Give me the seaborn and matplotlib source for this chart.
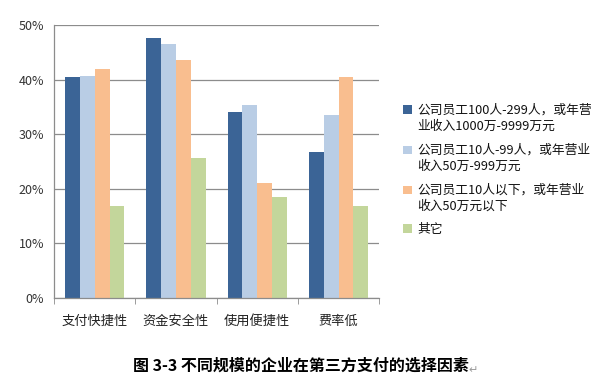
import pandas as pd
import matplotlib.pyplot as plt
import seaborn as sns
from matplotlib.ticker import FuncFormatter, FixedLocator
from matplotlib.patches import Patch, Rectangle
from matplotlib.legend_handler import HandlerPatch

# data (percent)
categories = ['支付快捷性', '资金安全性', '使用便捷性', '费率低']
series_names = ['公司员工100人-299人，或年营\n业收入1000万-9999万元',
                '公司员工10人-99人，或年营业\n收入50万-999万元',
                '公司员工10人以下，或年营业\n收入50万元以下',
                '其它']
large = [40.4, 47.6, 34.1, 26.7]
medium = [40.6, 46.6, 35.3, 33.5]
small = [41.9, 43.6, 21.0, 40.4]
other = [16.9, 25.7, 18.5, 16.9]
colors = ['#3B6496', '#B9CDE5', '#F9BE8F', '#C3D69B']

rows = []
for name, vals in zip(series_names, [large, medium, small, other]):
    for cat, v in zip(categories, vals):
        rows.append({'category': cat, 'series': name, 'value': v})
df = pd.DataFrame(rows)

sns.set_style('white')
plt.rcParams['font.family'] = ['Noto Sans CJK SC', 'DejaVu Sans']

fig = plt.figure(figsize=(6.01, 3.90), dpi=100)
ax = fig.add_axes([0.0899, 0.236, 0.541, 0.700])

sns.barplot(data=df, x='category', y='value', hue='series', hue_order=series_names,
            palette=colors, width=0.73, gap=0, saturation=1, edgecolor='none',
            legend=False, ax=ax)

ax.set_ylim(0, 50)
ax.set_xlim(-0.5, 3.5)
ax.set_yticks([0, 10, 20, 30, 40, 50])
ax.yaxis.set_major_formatter(FuncFormatter(lambda v, p: f'{v:.0f}%'))
ax.yaxis.grid(True, color='#8C8C8C', linewidth=0.9)
ax.set_axisbelow(True)
ax.set_xlabel('')
ax.set_ylabel('')

for s in ['top', 'right']:
    ax.spines[s].set_visible(False)
for s in ['left', 'bottom']:
    ax.spines[s].set_color('#8C8C8C')
    ax.spines[s].set_linewidth(0.9)

ax.tick_params(axis='y', length=4, color='#8C8C8C', labelsize=9, labelcolor='#333333', pad=3)
ax.tick_params(axis='x', which='major', length=0, labelsize=9.5, labelcolor='#222222', pad=12)
ax.xaxis.set_minor_locator(FixedLocator([-0.5, 0.5, 1.5, 2.5, 3.5]))
ax.tick_params(axis='x', which='minor', length=4, color='#8C8C8C', bottom=True)

LINESP = 1.38


# legend squares sit on the first line of each (two-line) label
def top_square(legend, orig_handle, xdescent, ydescent, width, height, fontsize):
    n_lines = legend_lines.get(id(orig_handle), 1)
    shift = 0.5 * (n_lines - 1) * fontsize * LINESP
    return Rectangle((-xdescent, -ydescent + shift), width, height)


handles = [Patch(facecolor=c, edgecolor='none') for c in colors]
legend_lines = {id(h): name.count('\n') + 1 for h, name in zip(handles, series_names)}
leg = fig.legend(handles, series_names, loc='upper left', bbox_to_anchor=(0.652, 0.765),
                 frameon=False, fontsize=9.2, handlelength=0.65, handleheight=0.65,
                 handletextpad=0.45, labelspacing=0.8, labelcolor='#111111',
                 handler_map={Patch: HandlerPatch(patch_func=top_square)})
for t in leg.get_texts():
    t.set_linespacing(LINESP)

title = fig.text(0.5, 0.062, '图 3-3 不同规模的企业在第三方支付的选择因素', ha='center',
                 va='center', fontsize=11.5, fontweight='bold', color='#000000')
fig.canvas.draw()
bb = title.get_window_extent().transformed(fig.transFigure.inverted())
fig.text(bb.x1, 0.052, '↵', ha='left', va='center', fontsize=8, color='#999999',
         family=['DejaVu Sans'])

plt.savefig('out.png', dpi=100)
